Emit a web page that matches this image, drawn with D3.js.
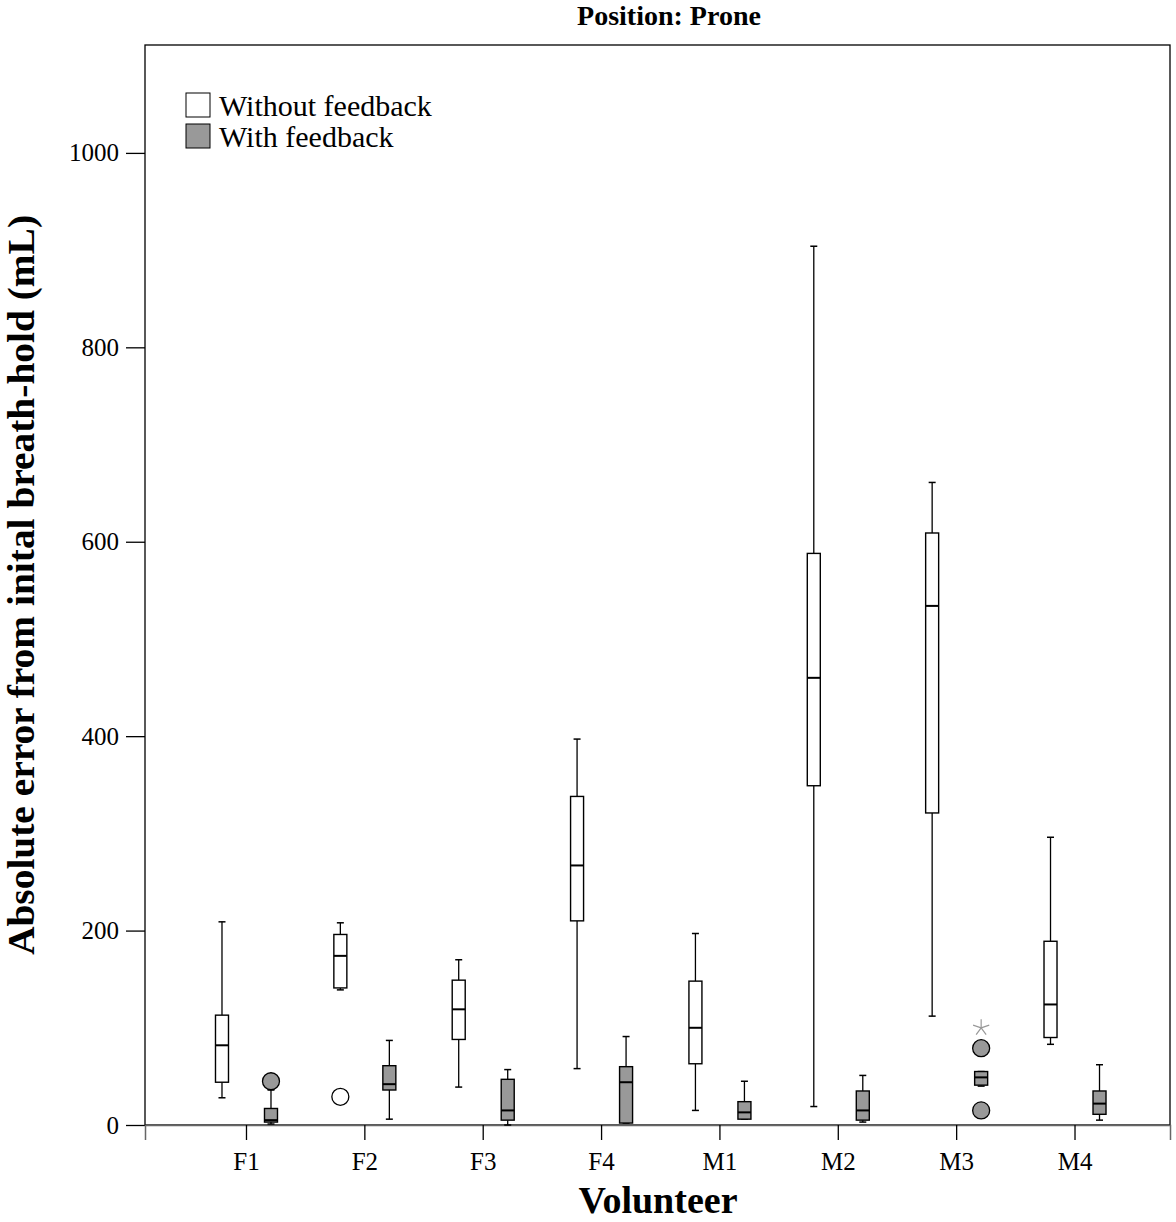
<!DOCTYPE html>
<html><head><meta charset="utf-8">
<script src="https://cdn.jsdelivr.net/npm/d3@7"></script>
<style>body{margin:0;background:#fff}svg{display:block}text{font-family:"Liberation Serif","Times New Roman",serif}</style>
</head><body><svg id="c" width="1176" height="1222"></svg>
<script>
const categories = ["F1","F2","F3","F4","M1","M2","M3","M4"];
const seriesNames = ["Without feedback","With feedback"];
// [whiskerLow, q1, median, q3, whiskerHigh]
const withoutFeedback = [
  [28, 44, 82, 113, 209],
  [139, 141, 174, 196, 208],
  [39, 88, 119, 149, 170],
  [58, 210, 267, 338, 397],
  [15, 63, 100, 148, 197],
  [19, 349, 460, 588, 904],
  [112, 321, 534, 609, 661],
  [83, 90, 124, 189, 296]
];
const withFeedback = [
  [1, 3, 5, 17, 36],
  [6, 36, 42, 61, 87],
  [0, 5, 15, 47, 57],
  [2, 2, 44, 60, 91],
  [6, 6, 13, 24, 45],
  [3, 5, 15, 35, 51],
  [40, 41, 49, 55, 55],
  [5, 11, 22, 35, 62]
];
// outliers: [categoryIndex, seriesIndex, value, kind]
const outliers = [
  [0, 1, 45, "circle"],
  [1, 0, 29, "circle"],
  [6, 1, 79, "circle"],
  [6, 1, 15, "circle"],
  [6, 1, 101, "star"]
];
const yTicks = [0, 200, 400, 600, 800, 1000];

const svg = d3.select("#c");
const L = 145, R = 1170, T = 45, B = 1125;
const y = d3.scaleLinear().domain([0, 1111]).range([B, T]);
const x = d3.scalePoint().domain(categories).range([L, R]).padding(0.83).align(0.514);
const off = [-24, 25];
const bw = 13;
const fills = ["#ffffff", "#999999"];

// frame
svg.append("rect").attr("x", L).attr("y", T).attr("width", R - L).attr("height", B - T)
  .attr("fill", "none").attr("stroke", "#000").attr("stroke-width", 1.3);

// y axis
const ya = svg.append("g").attr("transform", `translate(${L},0)`)
  .call(d3.axisLeft(y).tickValues(yTicks).tickSize(19).tickPadding(7).tickFormat(d3.format("d")));
ya.select(".domain").remove();
ya.selectAll("text").attr("font-size", 25).attr("font-family", "Liberation Serif").attr("fill", "#000");
ya.selectAll("line").attr("stroke", "#000").attr("stroke-width", 1.3);

// x axis
const xa = svg.append("g").attr("transform", `translate(0,${B})`)
  .call(d3.axisBottom(x).tickSize(15).tickPadding(12));
xa.select(".domain").attr("stroke", "#666").attr("stroke-width", 1.5);
xa.selectAll("text").attr("font-size", 25).attr("font-family", "Liberation Serif").attr("fill", "#000");
xa.selectAll("line").attr("stroke", "#000").attr("stroke-width", 1.3);

function drawBox(ci, si, d) {
  const cx = x(categories[ci]) + off[si];
  const g = svg.append("g");
  const [lo, q1, med, q3, hi] = d;
  g.append("line").attr("x1", cx).attr("x2", cx).attr("y1", y(hi)).attr("y2", y(q3)).attr("stroke", "#000").attr("stroke-width", 1.3);
  g.append("line").attr("x1", cx).attr("x2", cx).attr("y1", y(q1)).attr("y2", y(lo)).attr("stroke", "#000").attr("stroke-width", 1.3);
  g.append("line").attr("x1", cx - 3.5).attr("x2", cx + 3.5).attr("y1", y(hi)).attr("y2", y(hi)).attr("stroke", "#000").attr("stroke-width", 1.5);
  g.append("line").attr("x1", cx - 3.5).attr("x2", cx + 3.5).attr("y1", y(lo)).attr("y2", y(lo)).attr("stroke", "#000").attr("stroke-width", 1.5);
  g.append("rect").attr("x", cx - bw / 2).attr("y", y(q3)).attr("width", bw).attr("height", Math.max(1, y(q1) - y(q3)))
    .attr("fill", fills[si]).attr("stroke", "#000").attr("stroke-width", 1.4);
  g.append("line").attr("x1", cx - bw / 2).attr("x2", cx + bw / 2).attr("y1", y(med)).attr("y2", y(med)).attr("stroke", "#000").attr("stroke-width", 2);
}
withoutFeedback.forEach((d, i) => drawBox(i, 0, d));
withFeedback.forEach((d, i) => drawBox(i, 1, d));

outliers.forEach(([ci, si, v, kind]) => {
  const cx = x(categories[ci]) + off[si];
  if (kind === "circle") {
    svg.append("circle").attr("cx", cx).attr("cy", y(v)).attr("r", 8.5)
      .attr("fill", fills[si]).attr("stroke", "#000").attr("stroke-width", 1.3);
  } else {
    let p = "";
    for (let k = 0; k < 5; k++) {
      const a = (-90 + k * 72) * Math.PI / 180;
      p += `M0,0L${(8.5 * Math.cos(a)).toFixed(2)},${(8.5 * Math.sin(a)).toFixed(2)}`;
    }
    svg.append("path").attr("transform", `translate(${cx},${y(v) + 1})`)
      .attr("d", p).attr("fill", "none").attr("stroke", "#999").attr("stroke-width", 1.2);
  }
});

// legend
seriesNames.forEach((n, i) => {
  svg.append("rect").attr("x", 186).attr("y", 93 + i * 31).attr("width", 24).attr("height", 24)
    .attr("fill", fills[i]).attr("stroke", "#000").attr("stroke-width", 1);
  svg.append("text").attr("x", 219).attr("y", 116 + i * 31).attr("font-size", 30).text(n);
});

// titles
svg.append("text").attr("x", 669).attr("y", 25).attr("text-anchor", "middle")
  .attr("font-size", 28).attr("font-weight", "bold").text("Position: Prone");
svg.append("text").attr("x", 658).attr("y", 1213).attr("text-anchor", "middle")
  .attr("font-size", 38).attr("font-weight", "bold").text("Volunteer");
svg.append("text").attr("transform", "translate(34,585) rotate(-90)").attr("text-anchor", "middle")
  .attr("font-size", 38).attr("font-weight", "bold")
  .attr("textLength", 740).attr("lengthAdjust", "spacingAndGlyphs")
  .text("Absolute error from inital breath-hold (mL)");
</script></body></html>
